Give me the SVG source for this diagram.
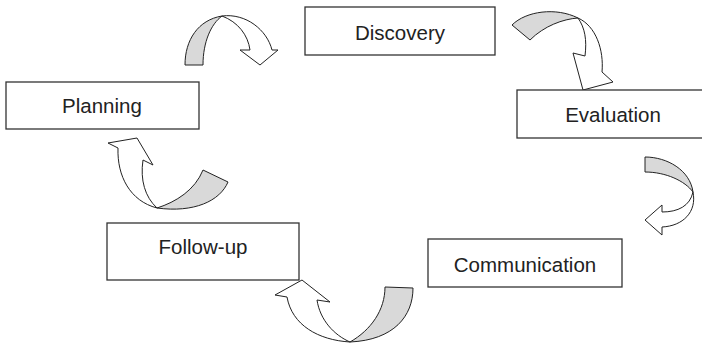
<svg xmlns="http://www.w3.org/2000/svg" width="702" height="344" viewBox="0 0 702 344">
<style>
.box{fill:#fff;stroke:#333;stroke-width:1.3}
.lbl{font-family:"Liberation Sans",Arial,sans-serif;font-size:20.5px;fill:#222;text-anchor:middle}
.g{fill:#d9d9d9;stroke:#222;stroke-width:1;stroke-linejoin:round}
.w{fill:#fff;stroke:#222;stroke-width:1;stroke-linejoin:miter}
</style>
<rect width="702" height="344" fill="#fff"/>
<g id="connectors">
  <g id="arrow-planning-discovery">
    <path class="g" d="M185,65 C185,40 198,20 222,16 C211,24 203,42 203,65 Z"/>
    <path class="w" d="M222,16 C246,13 267,30 272,50 L278,50 L260,65 L240,50 L250,50 C248,35 238,22 222,16 Z"/>
  </g>
  <g id="arrow-discovery-evaluation">
    <path class="g" d="M512,25 C526,11 556,7 578,18 C563,19 544,26 530,40 Z"/>
    <path class="w" d="M578,18 C596,26 604,50 602,72 L613,82 L583,90 L573,53 L585,56 C587,40 585,28 578,18 Z"/>
  </g>
  <g id="arrow-evaluation-communication">
    <path class="g" d="M645,157 C667,157 690,170 693,192 C685,181 666,172 645,172 Z"/>
    <path class="w" d="M693,192 C697,212 683,226 662,227 L662,235 L645,220 L662,205 L662,212 C678,212 690,206 693,192 Z"/>
  </g>
  <g id="arrow-communication-followup">
    <path class="g" d="M385,287 L413,288 C413,316 394,340 350,342 C371,330 385,310 385,287 Z"/>
    <path class="w" d="M350,342 C318,340 292,325 287,297 L275,295 L302,280 L330,302 L317,300 C320,320 334,335 350,342 Z"/>
  </g>
  <g id="arrow-followup-planning">
    <path class="g" d="M203,170 L228,182 C220,201 194,213 157,208 C176,202 195,190 203,170 Z"/>
    <path class="w" d="M157,208 C130,201 117,176 118,148 L108,143 L137,138 L153,165 L143,160 C140,180 145,197 157,208 Z"/>
  </g>
</g>
<g id="node-discovery">
  <rect class="box" x="305" y="7" width="190" height="48"/>
  <text class="lbl" x="400" y="39.5">Discovery</text>
</g>
<g id="node-evaluation">
  <rect class="box" x="517" y="90" width="192" height="48"/>
  <text class="lbl" x="613" y="122">Evaluation</text>
</g>
<g id="node-communication">
  <rect class="box" x="428" y="239" width="194" height="48"/>
  <text class="lbl" x="525" y="272">Communication</text>
</g>
<g id="node-followup">
  <rect class="box" x="107" y="223" width="192" height="57"/>
  <text class="lbl" x="203" y="254">Follow-up</text>
</g>
<g id="node-planning">
  <rect class="box" x="6" y="82" width="193" height="47"/>
  <text class="lbl" x="102" y="112.5">Planning</text>
</g>
</svg>
